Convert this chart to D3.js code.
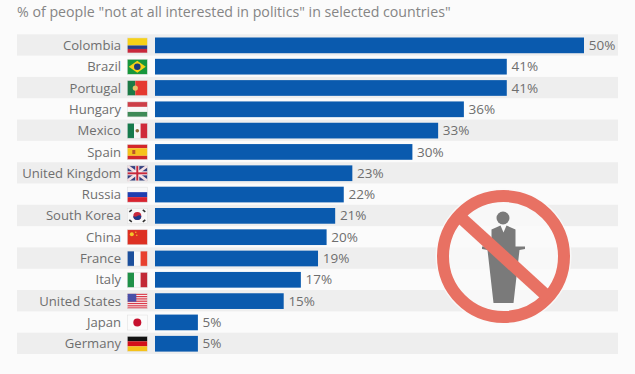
<!DOCTYPE html>
<html><head><meta charset="utf-8">
<script src="https://cdn.jsdelivr.net/npm/d3@7"></script>
<style>html,body{margin:0;padding:0;background:#fbfbfb}svg{display:block}text{font-family:"Open Sans",sans-serif}</style>
</head><body><svg id="c" width="635" height="374"></svg>
<script>
const countries=["Colombia","Brazil","Portugal","Hungary","Mexico","Spain","United Kingdom","Russia","South Korea","China","France","Italy","United States","Japan","Germany"];
const values=[50,41,41,36,33,30,23,22,21,20,19,17,15,5,5];
const subtitle='% of people "not at all interested in politics" in selected countries"';
const svg=d3.select("#c");
const y=d3.scaleBand().domain(countries).range([34.3,354]).padding(0);
const x=d3.scaleLinear().domain([0,50]).range([155,584]);
svg.append("text").attr("x",17).attr("y",17).attr("font-size",14.2).attr("fill","#858585").text(subtitle);
const g=svg.selectAll("g.row").data(countries).join("g").attr("class","row").attr("transform",d=>`translate(0,${y(d)})`);
const h=y.bandwidth();
g.filter((d,i)=>i%2==0).append("rect").attr("x",17).attr("width",601).attr("height",h).attr("fill","#eeeeee");
g.append("rect").attr("x",x(0)).attr("y",3.2).attr("height",h-5.6).attr("width",(d,i)=>x(values[i])-x(0)).attr("fill","#0a5aae");
g.append("text").attr("x",121).attr("y",h/2+5).attr("text-anchor","end").attr("font-size",13.1).attr("fill","#6e6e6e").text(d=>d);
g.append("text").attr("x",(d,i)=>x(values[i])+4.7).attr("y",h/2+5).attr("font-size",13.5).attr("fill","#6e6e6e").text((d,i)=>values[i]+"%");
// Flags
const flags={
Colombia:(f,w,t)=>{t(0,0,w,7.5,"#f7d117");t(0,7.5,w,3.5,"#27408b");t(0,11,w,4,"#c8283c")},
Brazil:(f,w,t)=>{t(0,0,w,15,"#17973c");f.append("path").attr("d","M1.5 7.5L10 1.5L18.5 7.5L10 13.5Z").attr("fill","#f5d117");f.append("circle").attr("cx",10).attr("cy",7.5).attr("r",3.3).attr("fill","#1c3a7a")},
Portugal:(f,w,t)=>{t(0,0,8,15,"#1c7a46");t(8,0,12,15,"#e5392f");f.append("circle").attr("cx",8).attr("cy",7.5).attr("r",2.6).attr("fill","#e6c36a")},
Hungary:(f,w,t)=>{t(0,0,w,5,"#cd3f48");t(0,5,w,5,"#f8f8f8");t(0,10,w,5,"#3f8a57")},
Mexico:(f,w,t)=>{t(0,0,6.7,15,"#167a4c");t(6.7,0,6.6,15,"#f6f6f6");t(13.3,0,6.7,15,"#cf2a3a");f.append("circle").attr("cx",10).attr("cy",7.5).attr("r",1.8).attr("fill","#8a6a3a")},
Spain:(f,w,t)=>{t(0,0,w,3.7,"#d3272b");t(0,3.7,w,7.6,"#f6c21c");t(0,11.3,w,3.7,"#d3272b");t(5,5.5,3,4,"#b9542a")},
"United Kingdom":(f,w,t)=>{t(0,0,w,15,"#34407f");f.append("path").attr("d","M0 0L20 15M20 0L0 15").attr("stroke","#f3dfe3").attr("stroke-width",2.6);t(8,0,4,15,"#f6f2f3");t(0,5.5,w,4,"#f6f2f3");t(9,0,2,15,"#c8283c");t(0,6.5,w,2,"#c8283c")},
Russia:(f,w,t)=>{t(0,0,w,5,"#f8f8f8");t(0,5,w,5,"#1f3fb0");t(0,10,w,5,"#d8232f")},
"South Korea":(f,w,t)=>{t(0,0,w,15,"#f8f8f8");f.append("circle").attr("cx",10).attr("cy",7.5).attr("r",4).attr("fill","#c8283c");f.append("path").attr("d","M6 7.5A4 4 0 0 0 14 7.5Q12 6 10 7.5T6 7.5Z").attr("fill","#1c3a8a");f.append("path").attr("d","M2 3.5L4.5 1.5M15.5 1.5L18 3.5M2 11.5L4.5 13.5M15.5 13.5L18 11.5").attr("stroke","#333").attr("stroke-width",1.6)},
China:(f,w,t)=>{t(0,0,w,15,"#dd3022");f.append("circle").attr("cx",4.5).attr("cy",4.5).attr("r",2).attr("fill","#f3c82a");f.append("circle").attr("cx",8.5).attr("cy",2.5).attr("r",.7).attr("fill","#f3c82a");f.append("circle").attr("cx",9.5).attr("cy",5.5).attr("r",.7).attr("fill","#f3c82a")},
France:(f,w,t)=>{t(0,0,6.7,15,"#1b4f9c");t(6.7,0,6.6,15,"#f8f8f8");t(13.3,0,6.7,15,"#e8402f")},
Italy:(f,w,t)=>{t(0,0,6.7,15,"#1f9148");t(6.7,0,6.6,15,"#f8f8f8");t(13.3,0,6.7,15,"#c22a37")},
"United States":(f,w,t)=>{t(0,0,w,15,"#f7eeee");[0,2.3,4.6,6.9,9.2,11.5,13.6].forEach(a=>t(0,a,w,1.2,"#d9394a"));t(0,0,9,8,"#4a4fa8")},
Japan:(f,w,t)=>{t(0,0,w,15,"#fbfbfb");f.append("circle").attr("cx",10).attr("cy",7.5).attr("r",4).attr("fill","#c6102e")},
Germany:(f,w,t)=>{t(0,0,w,5,"#111");t(0,5,w,5,"#d3101a");t(0,10,w,5,"#f5c21a")}
};
g.each(function(d){const f=d3.select(this).append("g").attr("transform",`translate(127.3,${h/2-7})`);
 const t=(a,b,c,e,col)=>f.append("rect").attr("x",a).attr("y",b).attr("width",c).attr("height",e).attr("fill",col);
 flags[d](f,20,t);
 f.append("rect").attr("width",20).attr("height",15).attr("fill","none").attr("stroke","#ddd").attr("stroke-width",.5);});
// Icon
const ic=svg.append("g").attr("transform","translate(503.5,256.5)");
ic.append("circle").attr("r",68).attr("fill","#fafafa").attr("fill-opacity",.8);
const p="#7a7a7a";
ic.append("circle").attr("cx",-.5).attr("cy",-38.5).attr("r",6.5).attr("fill",p);
ic.append("path").attr("d","M-12 -9L-12 -27L-3 -31L0 -24L3 -31L12 -27L12 -9Z").attr("fill",p);
ic.append("path").attr("d","M-21.5 -10H21.5V-7.5L16 -6.5L10 46.5H-10L-16 -6.5L-21.5 -7.5Z").attr("fill",p);
ic.append("circle").attr("r",60.5).attr("fill","none").attr("stroke","#e87163").attr("stroke-width",12);
ic.append("line").attr("x1",-45).attr("y1",-41).attr("x2",45).attr("y2",41).attr("stroke","#e87163").attr("stroke-width",12.5);
</script></body></html>
